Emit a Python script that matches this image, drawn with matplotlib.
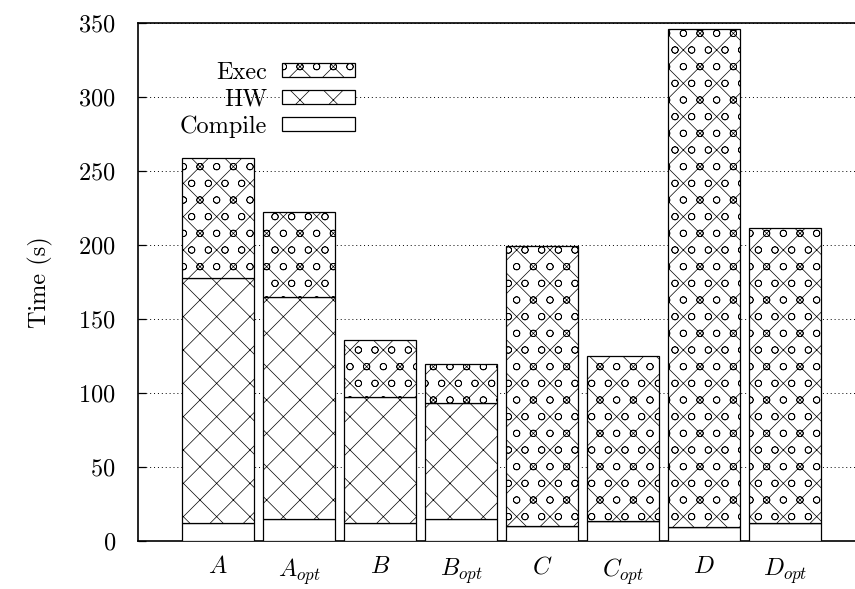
import matplotlib
matplotlib.use("Agg")
import matplotlib.pyplot as plt
import numpy as np

plt.rcParams['font.family'] = ['cmr10', 'DejaVu Serif']
plt.rcParams['mathtext.fontset'] = 'cm'
plt.rcParams['axes.formatter.use_mathtext'] = True
plt.rcParams['hatch.linewidth'] = 0.5
plt.rcParams['font.size'] = 17.5

# values
labels = ['$A$', '$A_{opt}$', '$B$', '$B_{opt}$', '$C$', '$C_{opt}$', '$D$', '$D_{opt}$']
compile_t = [12.2, 14.9, 11.9, 14.6, 10.1, 13.3, 9.3, 12.4]
hw_top = [177.6, 164.8, 97.4, 93.0, 0, 0, 0, 0]
total = [258.6, 222.1, 135.7, 119.5, 199.2, 124.9, 345.5, 211.1]

compile_t = np.array(compile_t)
hw = np.array([max(h - c, 0) for h, c in zip(hw_top, compile_t)])
ex = np.array(total) - compile_t - hw

fig = plt.figure(figsize=(8.55, 5.89), dpi=100)
ax = fig.add_axes([0.1614, 0.0815, 0.8386, 0.88])

x = np.arange(len(labels))
w = 0.89
kw = dict(width=w, edgecolor='black', linewidth=0.9, zorder=3)
b1 = ax.bar(x, compile_t, color='white', label='Compile', **kw)
b2 = ax.bar(x, hw, bottom=compile_t, color='white', hatch='x', label='HW', **kw)
b3 = ax.bar(x, ex, bottom=compile_t + hw, color='white', hatch='xo', label='Exec', **kw)

ax.set_xlim(-0.99, 7.86)
ax.set_ylim(0, 350)
ax.set_yticks(range(0, 351, 50))
ax.set_xticks(x)
ax.set_xticklabels(labels)
ax.tick_params(axis='x', length=0, pad=11)
ax.tick_params(axis='y', direction='in', length=6, width=0.9, pad=16)
ax.yaxis.grid(True, linestyle=(0, (1, 3)), color='black', linewidth=0.7, zorder=0)
ax.set_axisbelow(True)
ax.spines['right'].set_visible(False)
for s in ['left', 'top', 'bottom']:
    ax.spines[s].set_linewidth(1.2)
ax.set_ylabel('Time (s)', labelpad=18)

leg = ax.legend(handles=[b3, b2, b1], loc='upper right', bbox_to_anchor=(0.326, 0.958),
                markerfirst=False, frameon=False, handlelength=3.0, handleheight=0.5,
                labelspacing=0.2, handletextpad=0.6, borderpad=0.2)

fig.savefig('out.png', dpi=100)
